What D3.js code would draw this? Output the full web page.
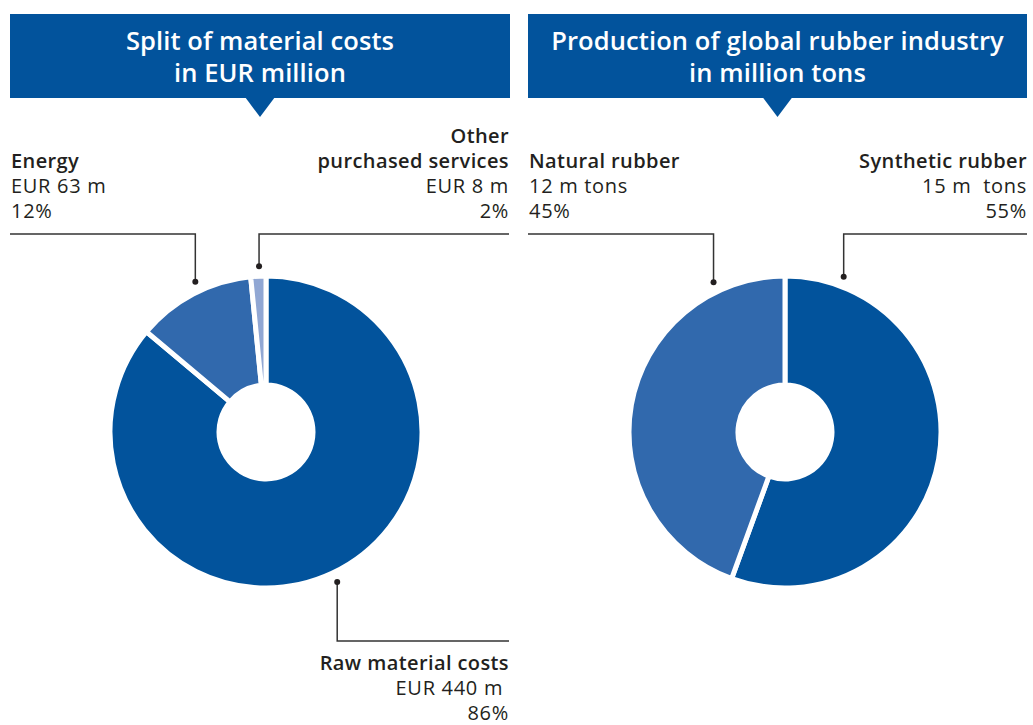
<!DOCTYPE html>
<meta charset="utf-8">
<script src="https://d3js.org/d3.v7.min.js"></script>
<style>
  body { margin: 0; background: #fff; }
  text { font-family: "Open Sans", Lato, sans-serif; fill: #231f20; }
  .title { fill: #fff; font-weight: 600; font-size: 25.5px; letter-spacing: 0.1px; }
  .name { font-weight: 600; font-size: 20px; letter-spacing: 0.4px; }
  .val { font-size: 20px; letter-spacing: 0.7px; }
  .leader { fill: none; stroke: #333; stroke-width: 1.5px; }
</style>
<div id="chart"></div>
<script>
  // chart 1: material costs (EUR m)
  var costNames = ["Raw material costs", "Energy", "Other|purchased services"];
  var costValues = [440, 63, 8];
  var costText = ["EUR 440 m\u00a0", "EUR 63 m", "EUR 8 m"];
  var costPct = ["86%", "12%", "2%"];
  var costColors = ["#02539c", "#3169ad", "#91a7d3"];

  // chart 2: global rubber production (m tons)
  var rubberNames = ["Synthetic rubber", "Natural rubber"];
  var rubberValues = [15, 12];
  var rubberText = ["15 m\u00a0 tons", "12 m tons"];
  var rubberPct = ["55%", "45%"];
  var rubberColors = ["#02539c", "#3169ad"];

  var width = 1033, height = 725;
  var svg = d3.select("#chart").append("svg")
    .attr("width", width)
    .attr("height", height);

  var pie = d3.pie().sort(null).value(function (d) { return d; });
  var arc = d3.arc().innerRadius(47).outerRadius(156);

  function header(x0, x1, lines) {
    var g = svg.append("g");
    var cx = (x0 + x1) / 2;
    g.append("rect").attr("x", x0).attr("y", 14).attr("width", x1 - x0).attr("height", 84)
      .attr("fill", "#02539c");
    g.append("path")
      .attr("d", "M" + (cx - 15) + ",97 L" + (cx + 15) + ",97 L" + cx + ",117 Z")
      .attr("fill", "#02539c");
    lines.forEach(function (t, i) {
      g.append("text").attr("class", "title").attr("x", cx).attr("y", 50 + i * 32)
        .attr("text-anchor", "middle").text(t);
    });
  }

  // label: {angle, edge x, lineY, text lines}
  function donut(cx, cy, values, colors, labels) {
    var g = svg.append("g").attr("transform", "translate(" + cx + "," + cy + ")");
    g.selectAll("path.slice")
      .data(pie(values))
      .join("path")
      .attr("class", "slice")
      .attr("d", arc)
      .attr("fill", function (d, i) { return colors[i]; })
      .attr("stroke", "#fff")
      .attr("stroke-width", 5)
      .attr("stroke-linejoin", "miter");

    labels.forEach(function (l) {
      var p = d3.pointRadial(l.angle * Math.PI / 180, 166);
      var px = cx + p[0], py = cy + p[1];
      svg.append("path").attr("class", "leader")
        .attr("d", "M" + px + "," + py + " V" + l.lineY + " H" + l.edge);
      svg.append("circle").attr("cx", px).attr("cy", py).attr("r", 3).attr("fill", "#231f20");
      var anchor = l.edge < px ? "start" : "end";
      var tx = l.edge < px ? l.edge + 1 : l.edge;
      l.lines.forEach(function (t, i) {
        svg.append("text")
          .attr("class", i < l.bold ? "name" : "val")
          .attr("x", tx)
          .attr("y", l.firstY + i * 25)
          .attr("text-anchor", anchor)
          .text(t);
      });
    });
  }

  header(10, 510, ["Split of material costs", "in EUR million"]);
  header(528, 1027, ["Production of global rubber industry", "in million tons"]);

  var otherName = costNames[2].split("|");
  donut(266, 432, costValues, costColors, [
    { angle: 154.6, edge: 509, lineY: 641, firstY: 670, bold: 1,
      lines: [costNames[0], costText[0], costPct[0]] },
    { angle: 334.8, edge: 10, lineY: 234, firstY: 168, bold: 1,
      lines: [costNames[1], costText[1], costPct[1]] },
    { angle: 357.6, edge: 509, lineY: 234, firstY: 143, bold: 2,
      lines: [otherName[0], otherName[1], costText[2], costPct[2]] }
  ]);

  donut(785, 432, rubberValues, rubberColors, [
    { angle: 20.7, edge: 1027, lineY: 234, firstY: 168, bold: 1,
      lines: [rubberNames[0], rubberText[0], rubberPct[0]] },
    { angle: 334.5, edge: 528, lineY: 234, firstY: 168, bold: 1,
      lines: [rubberNames[1], rubberText[1], rubberPct[1]] }
  ]);
</script>
